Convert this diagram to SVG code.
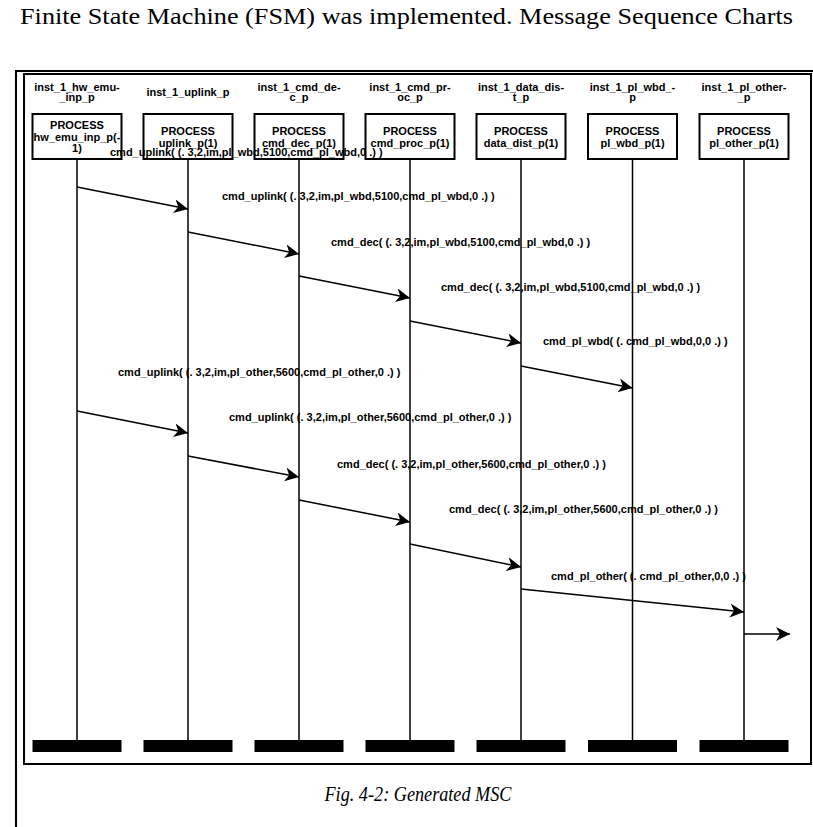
<svg xmlns="http://www.w3.org/2000/svg" width="813" height="827" viewBox="0 0 813 827">
<defs>
<style>
.lbl{font-family:"Liberation Sans",Arial,sans-serif;font-size:11px;font-weight:bold;fill:#000}
.mid{text-anchor:middle}
.box{fill:#fff;stroke:#000;stroke-width:2}
.life{stroke:#000;stroke-width:1.5}
.bar{fill:#000}
.msg{stroke:#000;stroke-width:1.5;fill:none;marker-end:url(#ah)}
.frame{fill:none;stroke:#000;stroke-width:2}
</style>
<marker id="ah" markerWidth="16" markerHeight="16" refX="14" refY="7" orient="auto" markerUnits="userSpaceOnUse">
<path d="M0,0 L14,7 L0,14 L4,7 z" fill="#000"/>
</marker>
</defs>
<rect width="813" height="827" fill="#fff"/>
<text x="20" y="24" font-family="'Liberation Serif','Times New Roman',serif" font-size="24" textLength="773" lengthAdjust="spacingAndGlyphs">Finite State Machine (FSM) was implemented. Message Sequence Charts</text>
<g id="frame">
<path class="frame" d="M16,827 V71 H813"/>
<rect class="frame" x="24" y="74" width="787" height="690"/>
</g>
<g id="node-hw_emu_inp">
<text class="lbl mid" x="77" y="91">inst_1_hw_emu-</text>
<text class="lbl mid" x="77" y="101">_inp_p</text>
<line class="life" x1="77" y1="159" x2="77" y2="740"/>
<rect class="box" x="32.5" y="114" width="89" height="45"/>
<text class="lbl mid" x="77" y="129">PROCESS</text>
<text class="lbl mid" x="77" y="140.5">hw_emu_inp_p(-</text>
<text class="lbl mid" x="77" y="152">1)</text>
<rect class="bar" x="32.5" y="740" width="89" height="12"/>
</g>
<g id="node-uplink">
<text class="lbl mid" x="188" y="96">inst_1_uplink_p</text>
<line class="life" x1="188" y1="159" x2="188" y2="740"/>
<rect class="box" x="143.5" y="114" width="89" height="45"/>
<text class="lbl mid" x="188" y="135">PROCESS</text>
<text class="lbl mid" x="188" y="146.5">uplink_p(1)</text>
<rect class="bar" x="143.5" y="740" width="89" height="12"/>
</g>
<g id="node-cmd_dec">
<text class="lbl mid" x="299" y="91">inst_1_cmd_de-</text>
<text class="lbl mid" x="299" y="101">c_p</text>
<line class="life" x1="299" y1="159" x2="299" y2="740"/>
<rect class="box" x="254.5" y="114" width="89" height="45"/>
<text class="lbl mid" x="299" y="135">PROCESS</text>
<text class="lbl mid" x="299" y="146.5">cmd_dec_p(1)</text>
<rect class="bar" x="254.5" y="740" width="89" height="12"/>
</g>
<g id="node-cmd_proc">
<text class="lbl mid" x="410" y="91">inst_1_cmd_pr-</text>
<text class="lbl mid" x="410" y="101">oc_p</text>
<line class="life" x1="410" y1="159" x2="410" y2="740"/>
<rect class="box" x="365.5" y="114" width="89" height="45"/>
<text class="lbl mid" x="410" y="135">PROCESS</text>
<text class="lbl mid" x="410" y="146.5">cmd_proc_p(1)</text>
<rect class="bar" x="365.5" y="740" width="89" height="12"/>
</g>
<g id="node-data_dist">
<text class="lbl mid" x="521" y="91">inst_1_data_dis-</text>
<text class="lbl mid" x="521" y="101">t_p</text>
<line class="life" x1="521" y1="159" x2="521" y2="740"/>
<rect class="box" x="476.5" y="114" width="89" height="45"/>
<text class="lbl mid" x="521" y="135">PROCESS</text>
<text class="lbl mid" x="521" y="146.5">data_dist_p(1)</text>
<rect class="bar" x="476.5" y="740" width="89" height="12"/>
</g>
<g id="node-pl_wbd">
<text class="lbl mid" x="632.5" y="91">inst_1_pl_wbd_-</text>
<text class="lbl mid" x="632.5" y="101">p</text>
<line class="life" x1="632.5" y1="159" x2="632.5" y2="740"/>
<rect class="box" x="588" y="114" width="89" height="45"/>
<text class="lbl mid" x="632.5" y="135">PROCESS</text>
<text class="lbl mid" x="632.5" y="146.5">pl_wbd_p(1)</text>
<rect class="bar" x="588" y="740" width="89" height="12"/>
</g>
<g id="node-pl_other">
<text class="lbl mid" x="744" y="91">inst_1_pl_other-</text>
<text class="lbl mid" x="744" y="101">_p</text>
<line class="life" x1="744" y1="159" x2="744" y2="740"/>
<rect class="box" x="699.5" y="114" width="89" height="45"/>
<text class="lbl mid" x="744" y="135">PROCESS</text>
<text class="lbl mid" x="744" y="146.5">pl_other_p(1)</text>
<rect class="bar" x="699.5" y="740" width="89" height="12"/>
</g>
<g id="connectors">
<line class="msg" x1="77" y1="187" x2="188" y2="209"/>
<line class="msg" x1="188" y1="232" x2="299" y2="254"/>
<line class="msg" x1="299" y1="276" x2="410" y2="298"/>
<line class="msg" x1="410" y1="321" x2="521" y2="343"/>
<line class="msg" x1="521" y1="366" x2="632.5" y2="388"/>
<line class="msg" x1="77" y1="411" x2="188" y2="433"/>
<line class="msg" x1="188" y1="456" x2="299" y2="477"/>
<line class="msg" x1="299" y1="500" x2="410" y2="522"/>
<line class="msg" x1="410" y1="544" x2="521" y2="567"/>
<line class="msg" x1="521" y1="589" x2="744" y2="612"/>
<line class="msg" x1="744" y1="634" x2="790" y2="634"/>
</g>
<g id="labels">
<text class="lbl" x="110" y="156">cmd_uplink( (. 3,2,im,pl_wbd,5100,cmd_pl_wbd,0 .) )</text>
<text class="lbl" x="222" y="200">cmd_uplink( (. 3,2,im,pl_wbd,5100,cmd_pl_wbd,0 .) )</text>
<text class="lbl" x="331" y="246">cmd_dec( (. 3,2,im,pl_wbd,5100,cmd_pl_wbd,0 .) )</text>
<text class="lbl" x="441" y="291">cmd_dec( (. 3,2,im,pl_wbd,5100,cmd_pl_wbd,0 .) )</text>
<text class="lbl" x="543" y="345">cmd_pl_wbd( (. cmd_pl_wbd,0,0 .) )</text>
<text class="lbl" x="118" y="376">cmd_uplink( (. 3,2,im,pl_other,5600,cmd_pl_other,0 .) )</text>
<text class="lbl" x="229" y="421">cmd_uplink( (. 3,2,im,pl_other,5600,cmd_pl_other,0 .) )</text>
<text class="lbl" x="337" y="468">cmd_dec( (. 3,2,im,pl_other,5600,cmd_pl_other,0 .) )</text>
<text class="lbl" x="449" y="513">cmd_dec( (. 3,2,im,pl_other,5600,cmd_pl_other,0 .) )</text>
<text class="lbl" x="551" y="580">cmd_pl_other( (. cmd_pl_other,0,0 .) )</text>
</g>
<text x="418" y="801" text-anchor="middle" font-family="'Liberation Serif','Times New Roman',serif" font-style="italic" font-size="21" textLength="187" lengthAdjust="spacingAndGlyphs">Fig. 4-2: Generated MSC</text>
</svg>
